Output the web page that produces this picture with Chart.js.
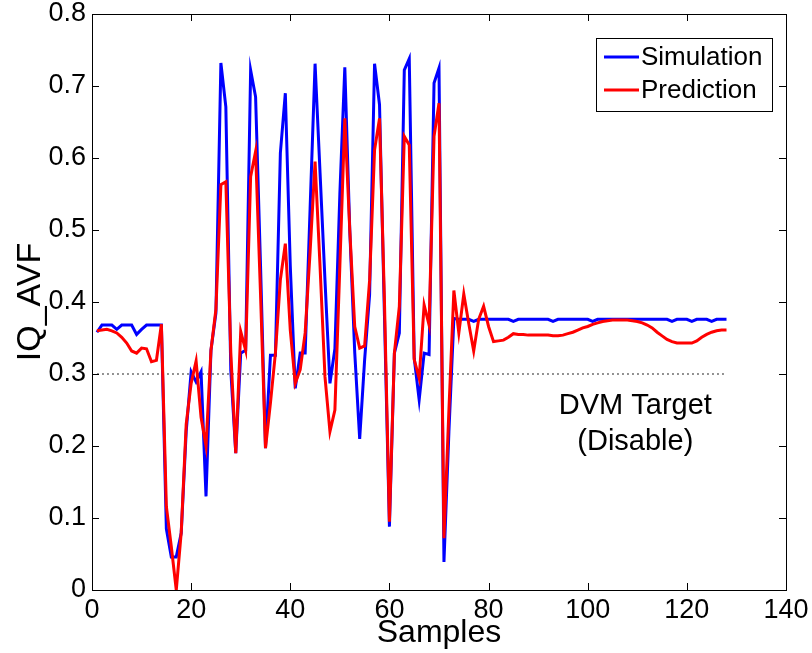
<!DOCTYPE html>
<html>
<head>
<meta charset="utf-8">
<title>IQ_AVF</title>
<script src="https://cdn.jsdelivr.net/npm/chart.js@4.4.0/dist/chart.umd.min.js"></script>
<style>
    html, body { margin: 0; padding: 0; background: #fff; }
    #wrap { width: 812px; height: 653px; }
</style>
</head>
<body>
<div id="wrap"><canvas id="chart" width="812" height="653"></canvas></div>
<script>
// Sample numbers (x axis)
const sampleNo = [
      1,   2,   3,   4,   5,   6,   7,   8,   9,  10,  11,  12,  13,  14,  15,  16,
     17,  18,  19,  20,  21,  22,  23,  24,  25,  26,  27,  28,  29,  30,  31,  32,
     33,  34,  35,  36,  37,  38,  39,  40,  41,  42,  43,  44,  45,  46,  47,  48,
     49,  50,  51,  52,  53,  54,  55,  56,  57,  58,  59,  60,  61,  62,  63,  64,
     65,  66,  67,  68,  69,  70,  71,  72,  73,  74,  75,  76,  77,  78,  79,  80,
     81,  82,  83,  84,  85,  86,  87,  88,  89,  90,  91,  92,  93,  94,  95,  96,
     97,  98,  99, 100, 101, 102, 103, 104, 105, 106, 107, 108, 109, 110, 111, 112,
    113, 114, 115, 116, 117, 118, 119, 120, 121, 122, 123, 124, 125, 126, 127, 128
];

// Simulated IQ_AVF
const simulation = [
    0.358, 0.368, 0.368, 0.368, 0.362, 0.368, 0.368, 0.368, 0.355, 0.362, 0.368, 0.368, 0.368, 0.368, 0.085, 0.046,
    0.046, 0.079, 0.220, 0.303, 0.289, 0.303, 0.130, 0.333, 0.385, 0.732, 0.671, 0.305, 0.190, 0.329, 0.333, 0.722,
    0.685, 0.450, 0.197, 0.326, 0.326, 0.607, 0.690, 0.450, 0.280, 0.329, 0.329, 0.530, 0.731, 0.580, 0.430, 0.287,
    0.335, 0.550, 0.726, 0.500, 0.330, 0.210, 0.320, 0.410, 0.731, 0.674, 0.380, 0.088, 0.329, 0.357, 0.722, 0.738,
    0.322, 0.264, 0.329, 0.327, 0.704, 0.725, 0.039, 0.220, 0.377, 0.376, 0.376, 0.376, 0.373, 0.376, 0.376, 0.376,
    0.376, 0.376, 0.376, 0.376, 0.373, 0.376, 0.376, 0.376, 0.376, 0.376, 0.376, 0.376, 0.373, 0.376, 0.376, 0.376,
    0.376, 0.376, 0.376, 0.376, 0.373, 0.376, 0.376, 0.376, 0.376, 0.376, 0.376, 0.376, 0.376, 0.376, 0.376, 0.376,
    0.376, 0.376, 0.376, 0.376, 0.373, 0.376, 0.376, 0.376, 0.373, 0.376, 0.376, 0.376, 0.373, 0.376, 0.376, 0.376
];

// Predicted IQ_AVF
const prediction = [
    0.360, 0.361, 0.362, 0.360, 0.357, 0.351, 0.343, 0.332, 0.329, 0.336, 0.335, 0.317, 0.319, 0.369, 0.116, 0.060,
    0.000, 0.080, 0.230, 0.287, 0.318, 0.240, 0.200, 0.333, 0.390, 0.563, 0.567, 0.330, 0.190, 0.359, 0.333, 0.574,
    0.609, 0.410, 0.197, 0.260, 0.329, 0.431, 0.481, 0.361, 0.287, 0.306, 0.357, 0.470, 0.595, 0.450, 0.296, 0.220,
    0.250, 0.450, 0.655, 0.500, 0.366, 0.336, 0.339, 0.430, 0.611, 0.655, 0.400, 0.095, 0.329, 0.394, 0.630, 0.618,
    0.320, 0.294, 0.396, 0.368, 0.630, 0.676, 0.072, 0.250, 0.416, 0.357, 0.411, 0.370, 0.332, 0.376, 0.394, 0.366,
    0.345, 0.346, 0.347, 0.351, 0.356, 0.355, 0.355, 0.354, 0.354, 0.354, 0.354, 0.354, 0.353, 0.353, 0.354, 0.356,
    0.358, 0.361, 0.364, 0.366, 0.369, 0.371, 0.373, 0.374, 0.375, 0.375, 0.375, 0.375, 0.374, 0.373, 0.371, 0.368,
    0.364, 0.358, 0.353, 0.348, 0.345, 0.343, 0.343, 0.343, 0.343, 0.346, 0.351, 0.355, 0.358, 0.360, 0.361, 0.361
];

// DVM target (disabled) line
const targetX = [1, 128];
const targetY = [0.3, 0.3];

const xTicks = [0, 20, 40, 60, 80, 100, 120, 140];
const yTicks = [0, 0.1, 0.2, 0.3, 0.4, 0.5, 0.6, 0.7, 0.8];
const targetNote = ['DVM Target', '(Disable)'];

const FONT = "'Liberation Sans', Arial, Helvetica, sans-serif";

function toPoints(xs, ys) {
    return xs.map((x, i) => ({ x: x, y: ys[i] }));
}

// MATLAB style box, inward ticks, legend and the target note
const matlabAxes = {
    id: 'matlabAxes',
    afterDatasetsDraw(chart) {
        const { ctx, chartArea: a, scales: { x, y } } = chart;
        ctx.save();
        ctx.strokeStyle = '#000';
        ctx.lineWidth = 1;
        ctx.beginPath();
        xTicks.forEach(v => {
            const px = Math.round(x.getPixelForValue(v)) + 0.5;
            ctx.moveTo(px, a.bottom); ctx.lineTo(px, a.bottom - 7);
            ctx.moveTo(px, a.top); ctx.lineTo(px, a.top + 7);
        });
        yTicks.forEach(v => {
            const py = Math.round(y.getPixelForValue(v)) + 0.5;
            ctx.moveTo(a.left, py); ctx.lineTo(a.left + 7, py);
            ctx.moveTo(a.right, py); ctx.lineTo(a.right - 7, py);
        });
        ctx.stroke();
        ctx.strokeRect(Math.round(a.left) + 0.5, Math.round(a.top) + 0.5,
            Math.round(a.right - a.left), Math.round(a.bottom - a.top));

        // note under the target line
        ctx.fillStyle = '#000';
        ctx.font = '29px ' + FONT;
        ctx.textAlign = 'center';
        ctx.textBaseline = 'middle';
        ctx.fillText(targetNote[0], x.getPixelForValue(109.6), y.getPixelForValue(0.255));
        ctx.fillText(targetNote[1], x.getPixelForValue(109.6), y.getPixelForValue(0.206));

        // legend box
        const sets = chart.data.datasets.filter(d => d.label);
        const boxR = a.right - 14, boxT = a.top + 24, boxW = 176, rowH = 33;
        const boxL = boxR - boxW, boxH = rowH * sets.length + 7;
        ctx.fillStyle = '#fff';
        ctx.fillRect(boxL, boxT, boxW, boxH);
        ctx.strokeStyle = '#000';
        ctx.lineWidth = 1;
        ctx.strokeRect(Math.round(boxL) + 0.5, Math.round(boxT) + 0.5, boxW, boxH);
        ctx.font = '26px ' + FONT;
        ctx.textAlign = 'left';
        sets.forEach((d, i) => {
            const cy = boxT + 19 + i * rowH;
            ctx.strokeStyle = d.borderColor;
            ctx.lineWidth = 3;
            ctx.beginPath();
            ctx.moveTo(boxL + 8, cy); ctx.lineTo(boxL + 43, cy);
            ctx.stroke();
            ctx.fillStyle = '#000';
            ctx.fillText(d.label, boxL + 45, cy + 1);
        });
        ctx.restore();
    }
};

Chart.defaults.font.family = FONT;
Chart.defaults.color = '#000';

new Chart(document.getElementById('chart'), {
    type: 'line',
    data: {
        datasets: [
            {
                label: 'Simulation',
                data: toPoints(sampleNo, simulation),
                borderColor: '#0000ff',
                borderWidth: 3,
                pointRadius: 0,
                tension: 0,
                clip: 4,
                order: 1
            },
            {
                label: 'Prediction',
                data: toPoints(sampleNo, prediction),
                borderColor: '#ff0000',
                borderWidth: 3,
                pointRadius: 0,
                tension: 0,
                clip: 4,
                order: 0
            },
            {
                label: '',
                data: toPoints(targetX, targetY),
                borderColor: '#222',
                borderWidth: 1.2,
                borderDash: [2, 3],
                pointRadius: 0,
                order: 2
            }
        ]
    },
    options: {
        responsive: false,
        animation: false,
        devicePixelRatio: 1,
        layout: { padding: { top: 14, right: 26, left: 0, bottom: 0 } },
        plugins: {
            legend: { display: false },
            tooltip: { enabled: false }
        },
        scales: {
            x: {
                type: 'linear',
                min: 0,
                max: 140,
                afterBuildTicks: s => { s.ticks = xTicks.map(v => ({ value: v })); },
                grid: { display: false, drawTicks: false },
                border: { display: false },
                ticks: { font: { size: 27 }, padding: 4, maxRotation: 0 },
                title: { display: true, text: 'Samples', font: { size: 32 }, padding: { top: 0, bottom: 1 } },
                afterFit: s => { s.height = 63; s.paddingLeft = 0; s.paddingRight = 0; }
            },
            y: {
                min: 0,
                max: 0.8,
                afterBuildTicks: s => { s.ticks = yTicks.map(v => ({ value: v })); },
                grid: { display: false, drawTicks: false },
                border: { display: false },
                ticks: { font: { size: 27 }, padding: 6 },
                title: { display: true, text: 'IQ_AVF', font: { size: 34 }, padding: { top: 10, bottom: 0 } },
                afterFit: s => { s.width = 92; s.paddingTop = 0; s.paddingBottom = 0; }
            }
        }
    },
    plugins: [matlabAxes]
});
</script>
</body>
</html>
